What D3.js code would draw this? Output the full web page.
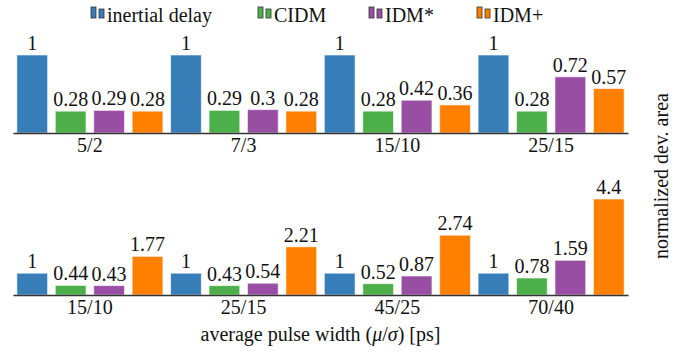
<!DOCTYPE html>
<html>
<head>
<meta charset="utf-8">
<script src="https://cdn.jsdelivr.net/npm/d3@7"></script>
</head>
<body style="margin:0">
<div id="chart"></div>
<script>
const FONT = "Liberation Serif, serif";

// series names + colours
const series = ["inertial delay", "CIDM", "IDM*", "IDM+"];
const colors = ["#377eb8", "#4daf4a", "#984ea3", "#ff7f00"];

// top panel
const topGroups = ["5/2", "7/3", "15/10", "25/15"];
const topInertial = [1, 1, 1, 1];
const topCIDM = [0.28, 0.29, 0.28, 0.28];
const topIDMstar = [0.29, 0.3, 0.42, 0.72];
const topIDMplus = [0.28, 0.28, 0.36, 0.57];

// bottom panel
const botGroups = ["15/10", "25/15", "45/25", "70/40"];
const botInertial = [1, 1, 1, 1];
const botCIDM = [0.44, 0.43, 0.52, 0.78];
const botIDMstar = [0.43, 0.54, 0.87, 1.59];
const botIDMplus = [1.77, 2.21, 2.74, 4.4];

const W = 689, H = 354;
const left = 13, right = 628;

const svg = d3.select("#chart")
  .append("svg")
  .attr("width", W)
  .attr("height", H)
  .attr("font-family", FONT);

function panel(groups, vals, base, yMax, topY) {
  const x0 = d3.scaleBand()
    .domain(groups)
    .range([left, right])
    .padding(0);

  const x1 = d3.scaleBand()
    .domain(series)
    .range([0, x0.bandwidth()])
    .paddingInner(0.2)
    .paddingOuter(0.1);

  const y = d3.scaleLinear()
    .domain([0, yMax])
    .range([base, topY]);

  const rows = groups.map((g, i) => ({
    group: g,
    bars: series.map((s, j) => ({ s: s, j: j, v: vals[j][i] }))
  }));

  const g = svg.append("g");

  const gr = g.selectAll("g.grp")
    .data(rows)
    .enter()
    .append("g")
    .attr("class", "grp")
    .attr("transform", d => "translate(" + x0(d.group) + ",0)");

  gr.selectAll("rect")
    .data(d => d.bars)
    .enter()
    .append("rect")
    .attr("x", d => x1(d.s))
    .attr("width", x1.bandwidth())
    .attr("y", d => y(d.v))
    .attr("height", d => base - y(d.v))
    .attr("fill", d => colors[d.j])
    .attr("stroke", "#fff")
    .attr("stroke-opacity", 0.6)
    .attr("stroke-width", 1);

  gr.selectAll("text.val")
    .data(d => d.bars)
    .enter()
    .append("text")
    .attr("class", "val")
    .attr("x", d => x1(d.s) + x1.bandwidth() / 2)
    .attr("y", d => y(d.v) - 5)
    .attr("text-anchor", "middle")
    .attr("font-family", FONT)
    .attr("font-size", 20)
    .attr("fill", "#111")
    .text(d => String(d.v));

  // x axis
  const ax = g.append("g")
    .attr("transform", "translate(0," + base + ")")
    .call(d3.axisBottom(x0).tickSize(0).tickPadding(5));
  ax.attr("font-family", FONT).attr("font-size", 20);
  ax.select(".domain").attr("stroke", "#333").attr("stroke-width", 1.5);
  ax.selectAll(".tick text")
    .attr("font-family", FONT)
    .attr("font-size", 20)
    .attr("fill", "#111");
}

panel(topGroups, [topInertial, topCIDM, topIDMstar, topIDMplus], 133, 1, 55);
panel(botGroups, [botInertial, botCIDM, botIDMstar, botIDMplus], 295, 4.4, 199);

// legend
const legX = [91, 258, 369, 477];
const leg = svg.append("g");
series.forEach((s, i) => {
  const lg = leg.append("g").attr("transform", "translate(" + legX[i] + ",7)");
  lg.append("rect").attr("x", 0).attr("y", 0).attr("width", 5).attr("height", 11)
    .attr("fill", colors[i]).attr("stroke", "#333").attr("stroke-width", 0.8);
  lg.append("rect").attr("x", 8).attr("y", 2).attr("width", 5).attr("height", 9)
    .attr("fill", colors[i]).attr("stroke", "#333").attr("stroke-width", 0.8);
  lg.append("text").attr("x", 16).attr("y", 15)
    .attr("font-family", FONT)
    .attr("font-size", 20)
    .attr("fill", "#111")
    .text(s);
});

// axis titles
const xt = svg.append("text")
  .attr("x", (left + right) / 2)
  .attr("y", 341)
  .attr("text-anchor", "middle")
  .attr("font-family", FONT)
  .attr("font-size", 20)
  .attr("fill", "#111");
xt.append("tspan").text("average pulse width (");
xt.append("tspan").attr("font-style", "italic").text("\u03bc");
xt.append("tspan").text("/");
xt.append("tspan").attr("font-style", "italic").text("\u03c3");
xt.append("tspan").text(") [ps]");

svg.append("text")
  .attr("transform", "translate(668,176) rotate(-90)")
  .attr("text-anchor", "middle")
  .attr("font-family", FONT)
  .attr("font-size", 20)
  .attr("fill", "#111")
  .text("normalized dev. area");
</script>
</body>
</html>
